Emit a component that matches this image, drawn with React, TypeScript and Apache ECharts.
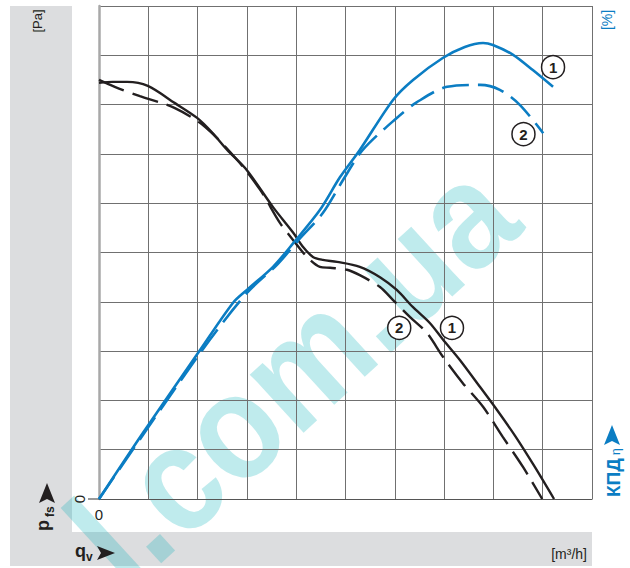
import React, { useEffect, useRef } from "react";
import * as echarts from "echarts";

// Pressure curve 1 (solid black): flow / pressure, both in grid units 0..100
const p1Flow = [0, 2.8, 5.7, 9.9, 15.4, 19.9, 22.9, 26.0, 30.0, 35.3, 39.4, 41.4, 43.4, 45.4, 48.3, 52.9, 57.0, 60.4, 63.7, 67.1, 69.8, 73.2, 77.3, 80.7, 84.4, 88.4, 92.3];
const p1Val = [84.4, 84.6, 84.6, 83.8, 80.3, 77.3, 74.4, 70.8, 66.7, 59.2, 54.0, 51.1, 49.1, 48.5, 48.1, 47.1, 45.0, 42.4, 38.9, 35.7, 32.3, 28.2, 22.7, 18.1, 12.8, 6.5, 0];
// Pressure curve 2 (dashed black)
const p2Flow = [0, 3.2, 8.3, 15.4, 21.5, 28.0, 32.7, 36.7, 39.4, 42.2, 44.8, 46.9, 50.3, 52.9, 57.0, 59.6, 63.1, 66.5, 69.8, 73.8, 77.9, 81.9, 86.0, 89.9];
const p2Val = [85.0, 83.6, 81.7, 79.3, 75.5, 68.8, 62.7, 56.0, 52.5, 49.1, 47.1, 46.9, 46.5, 45.4, 43.0, 40.4, 36.9, 33.7, 28.8, 23.5, 18.7, 12.6, 6.5, 0];
// Efficiency curve 1 (solid blue)
const e1Flow = [0, 8.9, 20.5, 27.2, 30.0, 35.3, 39.4, 44.8, 48.9, 52.9, 59.6, 63.7, 69.8, 74.2, 77.9, 79.9, 84.0, 88.0, 92.1];
const e1Val = [0, 13.4, 30.2, 39.8, 42.4, 47.1, 51.9, 58.6, 65.3, 70.8, 80.9, 85.0, 89.5, 91.7, 92.5, 92.1, 90.1, 87.0, 83.6];
// Efficiency curve 2 (dashed blue)
const e2Flow = [0, 20.5, 30.0, 36.1, 40.8, 45.4, 49.5, 53.5, 60.4, 64.5, 70.6, 77.3, 81.3, 85.4, 90.1];
const e2Val = [0, 29.6, 41.8, 47.5, 52.9, 58.0, 64.7, 70.8, 77.3, 80.5, 83.6, 84.0, 83.0, 79.9, 74.2];

// Curve number markers
const markerNames = ["1", "2", "2", "1"];
const markerFlow = [92.1, 86.1, 60.9, 71.6];
const markerVal = [87.6, 74.0, 34.7, 34.7];

const BLACK = "#231f20";
const BLUE = "#0b7dc3";
const GRAY = "#dcdddf";
const FONT = "'Liberation Sans', Arial, sans-serif";

const zip = (xs: number[], ys: number[]) => xs.map((x, i) => [x, ys[i]]);

const rotText = (text: string, x: number, y: number, size: number, color: string, bold: boolean, align = "left") => ({
  type: "text", x, y, rotation: Math.PI / 2,
  style: { text, fill: color, fontSize: size, fontWeight: bold ? "bold" : "normal", fontFamily: FONT, textAlign: align, textVerticalAlign: "middle" },
});
const flatText = (text: string, x: number, y: number, size: number, color: string, bold: boolean, align = "left") => ({
  type: "text", x, y,
  style: { text, fill: color, fontSize: size, fontWeight: bold ? "bold" : "normal", fontFamily: FONT, textAlign: align, textVerticalAlign: "middle" },
});

export default function App() {
  const ref = useRef<HTMLDivElement>(null);
  useEffect(() => {
    if (!ref.current) return;
    const chart = echarts.init(ref.current, null, { renderer: "svg" });
    const staticGraphics: any[] = [
      { type: "rect", z: -20, shape: { x: 10, y: 6, width: 62, height: 560 }, style: { fill: GRAY } },
      { type: "rect", z: -20, shape: { x: 10, y: 532, width: 582, height: 34 }, style: { fill: GRAY } },
      {
        type: "text", z: -5, x: 491, y: 190, rotation: 0.742, scaleX: 0.89,
        style: {
          text: "l.com.ua", fill: "rgba(0,175,185,0.25)", fontSize: 150, fontWeight: "bold",
          fontFamily: FONT, textAlign: "right", textVerticalAlign: "middle",
        },
      },
      rotText("[Pa]", 37, 21, 13, BLACK, false, "center"),
      rotText("[%]", 607, 20, 14, BLUE, false, "center"),
      rotText("p", 43, 531, 18, BLACK, true),
      rotText("fs", 50, 517, 12, BLACK, true),
      { type: "polygon", shape: { points: [[47, 483], [55, 503], [47, 499], [39, 503]] }, style: { fill: BLACK } },
      flatText("q", 75, 551, 18, BLACK, true),
      flatText("v", 86, 557, 12, BLACK, true),
      { type: "polygon", shape: { points: [[115, 553], [97, 546], [101, 553], [97, 560]] }, style: { fill: BLACK } },
      flatText("[m³/h]", 587, 554, 14, BLACK, false, "right"),
      rotText("КПД", 613, 497, 19, BLUE, true),
      rotText("η", 616, 455, 12, BLUE, false),
      { type: "polygon", shape: { points: [[612, 425], [620, 445], [612, 441], [604, 445]] }, style: { fill: BLUE } },
    ];

    const lineSeries = (name: string, data: number[][], color: string, dashed: boolean, yIdx: number, width: number) => ({
      name, type: "line", yAxisIndex: yIdx, data, smooth: 0.3, showSymbol: false, symbol: "none",
      lineStyle: { color, width, type: dashed ? [27, 9] : "solid", cap: "butt" }, z: 3,
    });

    chart.setOption({
      animation: false,
      backgroundColor: "#ffffff",
      grid: { left: 99, top: 6, right: 38, bottom: 69, containLabel: false },
      xAxis: {
        type: "value", min: 0, max: 100, interval: 10,
        axisLine: { show: true, lineStyle: { color: "#555", width: 1.2 } },
        axisTick: { show: false },
        splitLine: { show: true, lineStyle: { color: "#707070", width: 1 } },
        axisLabel: { formatter: (v: number) => (v === 0 ? "0" : ""), fontSize: 15, color: BLACK, fontFamily: FONT, margin: 8 },
      },
      yAxis: [
        {
          type: "value", min: 0, max: 100, interval: 10,
          axisLine: { show: true, lineStyle: { color: "#a8a8a8", width: 2.5 } },
          axisTick: { show: false },
          splitLine: { show: true, lineStyle: { color: "#707070", width: 1 } },
          axisLabel: { formatter: (v: number) => (v === 0 ? "0" : ""), rotate: 90, fontSize: 15, color: BLACK, fontFamily: FONT, margin: 12 },
        },
        { type: "value", min: 0, max: 100, interval: 10, show: false, splitLine: { show: false } },
      ],
      series: [
        lineSeries("p1", zip(p1Flow, p1Val), BLACK, false, 0, 2.4),
        lineSeries("p2", zip(p2Flow, p2Val), BLACK, true, 0, 2.4),
        lineSeries("e1", zip(e1Flow, e1Val), BLUE, false, 1, 2.6),
        lineSeries("e2", zip(e2Flow, e2Val), BLUE, true, 1, 2.6),
        {
          type: "scatter", z: 6, symbol: "circle", symbolSize: 23,
          data: markerFlow.map((x, i) => ({ value: [x, markerVal[i]], name: markerNames[i] })),
          itemStyle: { color: "#ffffff", borderColor: BLACK, borderWidth: 1.5, opacity: 1 },
          label: { show: true, position: "inside", formatter: (p: any) => p.name, fontSize: 15, fontWeight: "bold", color: BLACK, fontFamily: FONT },
          emphasis: { disabled: true },
        },
      ],
      graphic: staticGraphics,
    });

    const origin = chart.convertToPixel({ gridIndex: 0 }, [0, 0]) as number[];
    chart.setOption({
      graphic: [
        ...staticGraphics,
        { type: "line", shape: { x1: origin[0] - 11, y1: origin[1], x2: origin[0], y2: origin[1] }, style: { stroke: "#555", lineWidth: 1.2 } },
      ],
    });

    return () => chart.dispose();
  }, []);
  return <div ref={ref} style={{ position: "fixed", left: 0, top: 0, width: 630, height: 568 }} />;
}
